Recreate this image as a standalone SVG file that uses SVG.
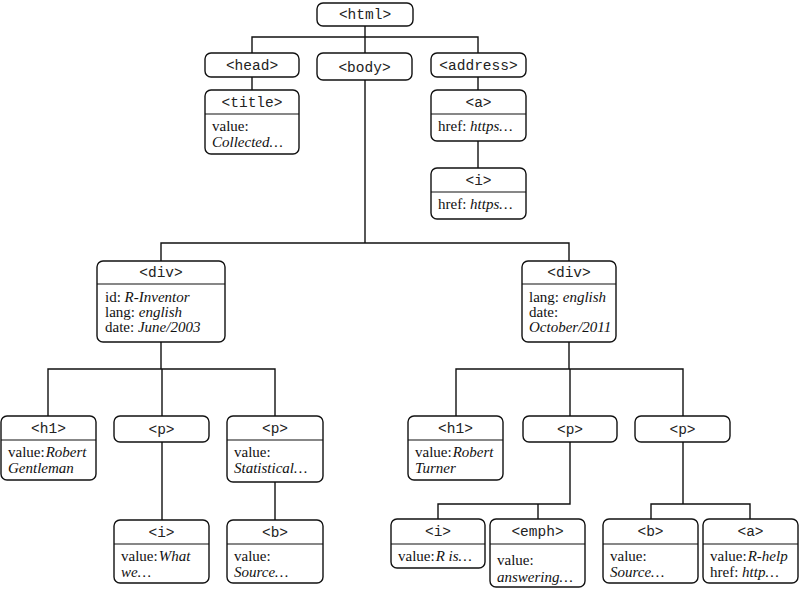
<svg xmlns="http://www.w3.org/2000/svg" width="800" height="589" viewBox="0 0 800 589">
<style>
.box{fill:#fff;stroke:#111;stroke-width:1.4}
.div{stroke:#111;stroke-width:1.2}
.tag{font-family:"Liberation Mono","Courier New",monospace;font-size:14.5px;text-anchor:middle;fill:#222}
.txt{font-family:"Liberation Serif","Times New Roman",serif;font-size:15px;fill:#111}
.it{font-style:italic}
.con{fill:none;stroke:#111;stroke-width:1.4}
</style>
<rect width="800" height="589" fill="#fff"/>
<g id="connectors" class="con">
<path d="M252,53 V37 H478 V53 M365,26 V53"/>
<path d="M252,77 V90"/>
<path d="M478,77 V90 M478,141 V168"/>
<path d="M365,80 V243 M161,261 V243 H569 V261"/>
<path d="M161,342 V369 M48,416 V369 H275 V416 M162,369 V416"/>
<path d="M162,442 V520 M275,482 V520"/>
<path d="M569,342 V369 M456,416 V369 H683 V416 M570,369 V416"/>
<path d="M570,442 V504 H438 V519 M538,504 V519"/>
<path d="M683,442 V504 M651,519 V504 H750 V519"/>
</g>
<g id="html"><rect class="box" x="317" y="3" width="96" height="23" rx="6"/><text class="tag" x="365" y="19">&lt;html&gt;</text></g>
<g id="head"><rect class="box" x="205" y="53" width="94" height="24" rx="6"/><text class="tag" x="252" y="70">&lt;head&gt;</text></g>
<g id="body"><rect class="box" x="317" y="53" width="95" height="27" rx="6"/><text class="tag" x="364.5" y="71.5">&lt;body&gt;</text></g>
<g id="address"><rect class="box" x="431" y="53" width="95" height="24" rx="6"/><text class="tag" x="478.5" y="70">&lt;address&gt;</text></g>
<g id="title"><rect class="box" x="205" y="90" width="94" height="64" rx="6"/><line class="div" x1="205" y1="114" x2="299" y2="114"/><text class="tag" x="252" y="106.5">&lt;title&gt;</text>
<text class="txt" x="212" y="131">value:</text><text class="txt it" x="212" y="147">Collected…</text></g>
<g id="a1"><rect class="box" x="431" y="90" width="95" height="51" rx="6"/><line class="div" x1="431" y1="114" x2="526" y2="114"/><text class="tag" x="478.5" y="106.5">&lt;a&gt;</text>
<text class="txt" x="438" y="131">href: <tspan class="it">https…</tspan></text></g>
<g id="i1"><rect class="box" x="431" y="168" width="95" height="51" rx="6"/><line class="div" x1="431" y1="192" x2="526" y2="192"/><text class="tag" x="478.5" y="184.5">&lt;i&gt;</text>
<text class="txt" x="438" y="209">href: <tspan class="it">https…</tspan></text></g>
<g id="div1"><rect class="box" x="97" y="261" width="128" height="81" rx="6"/><line class="div" x1="97" y1="284" x2="225" y2="284"/><text class="tag" x="161" y="277">&lt;div&gt;</text>
<text class="txt" x="105" y="302">id: <tspan class="it">R-Inventor</tspan></text>
<text class="txt" x="105" y="317">lang: <tspan class="it">english</tspan></text>
<text class="txt" x="105" y="332">date: <tspan class="it">June/2003</tspan></text></g>
<g id="div2"><rect class="box" x="522" y="261" width="94" height="81" rx="6"/><line class="div" x1="522" y1="284" x2="616" y2="284"/><text class="tag" x="569" y="277">&lt;div&gt;</text>
<text class="txt" x="529" y="302">lang: <tspan class="it">english</tspan></text>
<text class="txt" x="529" y="317">date:</text>
<text class="txt it" x="529" y="332">October/2011</text></g>
<g id="h1a"><rect class="box" x="1" y="416" width="95" height="64" rx="6"/><line class="div" x1="1" y1="440" x2="96" y2="440"/><text class="tag" x="48.5" y="432.5">&lt;h1&gt;</text>
<text class="txt" x="8" y="457">value:<tspan class="it" dx="1">Robert</tspan></text><text class="txt it" x="8" y="473">Gentleman</text></g>
<g id="p1"><rect class="box" x="114" y="416" width="95" height="26" rx="6"/><text class="tag" x="161.5" y="433.5">&lt;p&gt;</text></g>
<g id="p2"><rect class="box" x="227" y="416" width="96" height="66" rx="6"/><line class="div" x1="227" y1="440" x2="323" y2="440"/><text class="tag" x="275" y="432.5">&lt;p&gt;</text>
<text class="txt" x="234" y="457">value:</text><text class="txt it" x="234" y="473">Statistical…</text></g>
<g id="i2"><rect class="box" x="114" y="520" width="95" height="63" rx="6"/><line class="div" x1="114" y1="544" x2="209" y2="544"/><text class="tag" x="161.5" y="536.5">&lt;i&gt;</text>
<text class="txt" x="121" y="561">value:<tspan class="it" dx="1">What</tspan></text><text class="txt it" x="121" y="577">we…</text></g>
<g id="b1"><rect class="box" x="227" y="520" width="96" height="63" rx="6"/><line class="div" x1="227" y1="544" x2="323" y2="544"/><text class="tag" x="275" y="536.5">&lt;b&gt;</text>
<text class="txt" x="234" y="561">value:</text><text class="txt it" x="234" y="577">Source…</text></g>
<g id="h1b"><rect class="box" x="408" y="416" width="95" height="64" rx="6"/><line class="div" x1="408" y1="440" x2="503" y2="440"/><text class="tag" x="455.5" y="432.5">&lt;h1&gt;</text>
<text class="txt" x="415" y="457">value:<tspan class="it" dx="1">Robert</tspan></text><text class="txt it" x="415" y="473">Turner</text></g>
<g id="p3"><rect class="box" x="523" y="416" width="94" height="26" rx="6"/><text class="tag" x="570" y="433.5">&lt;p&gt;</text></g>
<g id="p4"><rect class="box" x="635" y="416" width="95" height="26" rx="6"/><text class="tag" x="682.5" y="433.5">&lt;p&gt;</text></g>
<g id="i3"><rect class="box" x="391" y="519" width="94" height="49" rx="6"/><line class="div" x1="391" y1="544" x2="485" y2="544"/><text class="tag" x="438" y="536">&lt;i&gt;</text>
<text class="txt" x="398" y="561">value:<tspan class="it" dx="1">R is…</tspan></text></g>
<g id="emph"><rect class="box" x="490" y="519" width="95" height="68" rx="6"/><line class="div" x1="490" y1="544" x2="585" y2="544"/><text class="tag" x="537.5" y="536">&lt;emph&gt;</text>
<text class="txt" x="497" y="565">value:</text><text class="txt it" x="497" y="582">answering…</text></g>
<g id="b2"><rect class="box" x="603" y="519" width="95" height="64" rx="6"/><line class="div" x1="603" y1="544" x2="698" y2="544"/><text class="tag" x="650.5" y="536">&lt;b&gt;</text>
<text class="txt" x="610" y="561">value:</text><text class="txt it" x="610" y="577">Source…</text></g>
<g id="a2"><rect class="box" x="703" y="519" width="95" height="64" rx="6"/><line class="div" x1="703" y1="544" x2="798" y2="544"/><text class="tag" x="750.5" y="536">&lt;a&gt;</text>
<text class="txt" x="710" y="561">value:<tspan class="it" dx="1">R-help</tspan></text><text class="txt" x="710" y="577">href: <tspan class="it">http…</tspan></text></g>
</svg>
